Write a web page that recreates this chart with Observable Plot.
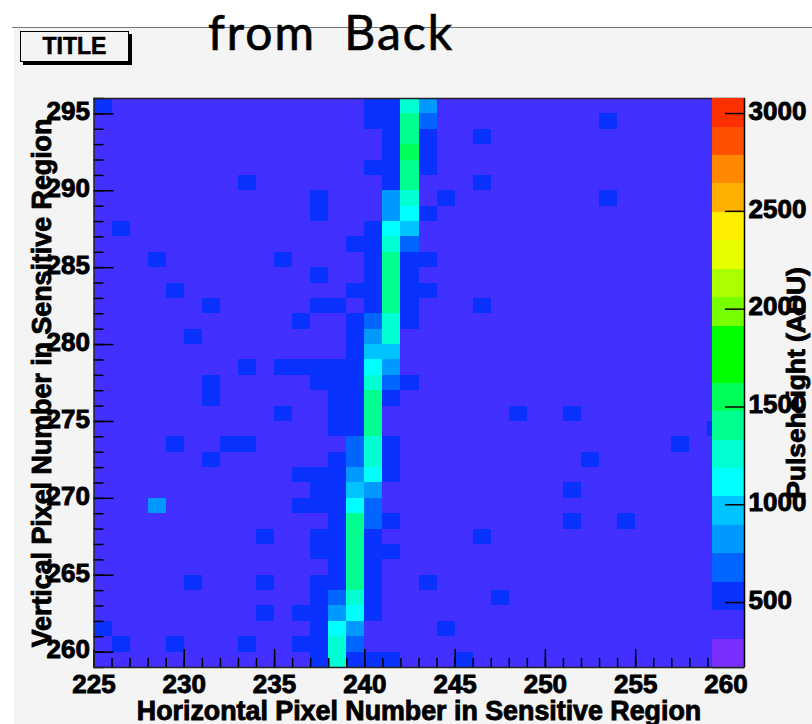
<!DOCTYPE html>
<html><head><meta charset="utf-8">
<script src="https://cdn.jsdelivr.net/npm/d3@7"></script>
<script src="https://cdn.jsdelivr.net/npm/@observablehq/plot@0.6"></script>
<style>
html,body{margin:0;padding:0;background:#fff;overflow:hidden;}
#stage{position:relative;width:812px;height:724px;overflow:hidden;}
#panel{position:absolute;left:14px;top:28px;right:0;bottom:0;background:#f4f4f4;}
#rule{position:absolute;left:12px;top:27px;right:0;height:1px;background:#777;}
#titlebox{position:absolute;left:20px;top:31px;width:107px;height:29px;border:1.5px solid #000;box-shadow:3px 3px 0 #000;background:#f4f4f4;
 font:bold 23px "Liberation Sans",Arial,sans-serif;text-align:center;line-height:29px;color:#000;-webkit-text-stroke:.6px #000;}
#note{position:absolute;left:208px;top:0px;font:48px "Comic Sans MS","Lato",sans-serif;word-spacing:14px;letter-spacing:2px;color:#000;white-space:nowrap;line-height:64px;-webkit-text-stroke:.7px #000;}
#stage svg{position:absolute;left:0;top:0;background:transparent;overflow:visible;}
#stage svg text{stroke:#000;stroke-width:.9px;}
</style></head>
<body><div id="stage"><div id="panel"></div><div id="rule"></div><div id="titlebox">TITLE</div><div id="note">from Back</div></div>
<script>
const heading = "from Back";
const xTitle = "Horizontal Pixel Number in Sensitive Region";
const yTitle = "Vertical Pixel Number in Sensitive Region";
const zTitle = "Pulseheight (ADU)";

const xMajor = [225,230,235,240,245,250,255,260];
const yMajor = [260,265,270,275,280,285,290,295];
const zMajor = [500,1000,1500,2000,2500,3000];

const thresholds = [313,459,604,750,895,1040,1186,1331,1477,1622,1768,1913,2059,2204,2349,2495,2640,2786,2931];
const palette = ["#7b2fff","#4230ff","#0a32ff","#0064ff","#0099ff","#00c4ff","#00ffff","#00ffd2","#00ff90","#00ff58","#00ff00","#00ff00","#78ff00","#aaff00","#e6ff00","#ffee00","#ffb000","#ff8800","#ff5000","#ff3000"];
const zLow = 168, zHigh = 3077;

const baselineADU = 390;
// [row, columns...] one palette step above the baseline
const faintADU = 530;
const faintRows = [
 [295,225,240,241],[294,240,241,253],[293,241,243,246],[292,241,243],[291,240,241,243],
 [290,233,241,246],[289,237,244,253],[288,237,243],[287,226,240],[286,239,240],
 [285,228,235,240,242,243],[284,237,240,242],[283,229,239,240,242,243],[282,231,237,238,240,242,246],
 [281,236,239,242],[280,230,239],[279,239],[278,233,235,236,237,238,239],[277,231,237,238,239,242],
 [276,231,238,239,241],[275,235,238,239,248,251],[274,238,239,259],[273,229,232,233,241,257],
 [272,231,238,241,252],[271,236,237,238,241],[270,237,238,251],[269,236,237,238],[268,238,241,251,254],
 [267,234,237,238,240,246],[266,237,238,240,241],[265,238,240],[264,230,234,237,238,240,243],
 [263,237,240,247],[262,234,236,237,240],[261,225,237,244],[260,226,229,233,236,237],[259,237,239,240,241,245]
];
// [x, y, ADU] along the track
const trackCells = [
 [242,295,1260],[243,295,820],[242,294,1400],[243,294,680],[242,293,1400],[242,292,1550],[242,291,1400],[242,290,1400],
 [241,289,820],[242,289,1260],[241,288,820],[242,288,1110],[241,287,1110],[242,287,970],[241,286,1260],[242,286,680],
 [241,285,1400],[241,284,1400],[241,283,1400],[241,282,1400],[240,281,680],[241,281,1260],[240,280,820],[241,280,1260],
 [240,279,970],[241,279,970],[240,278,1110],[241,278,820],[240,277,1260],[241,277,680],[240,276,1400],[240,275,1400],
 [240,274,1400],[239,273,680],[240,273,1260],[239,272,680],[240,272,1260],[239,271,820],[240,271,1110],[239,270,970],
 [240,270,820],[239,269,1110],[240,269,680],[228,269,820],[239,268,1400],[240,268,680],[239,267,1400],[239,266,1400],
 [239,265,1400],[239,264,1400],[238,263,680],[239,263,1260],[238,262,820],[239,262,1110],[238,261,1110],[239,261,820],
 [238,260,1260],[239,260,680],[238,259,1260]
];

const xBins = d3.range(225,261), yBins = d3.range(259,296);
const lookup = new Map();
for (const [y,...xs] of faintRows) for (const x of xs) lookup.set(x+":"+y, faintADU);
for (const [x,y,v] of trackCells) lookup.set(x+":"+y, v);
const cells = d3.cross(xBins,yBins).map(([x,y])=>({x,y,v:lookup.get(x+":"+y) ?? baselineADU}));

const colorScale = {type:"threshold",domain:thresholds,range:palette};
const font = {fontFamily:'"Liberation Sans",Arial,sans-serif',fontWeight:"bold",color:"#000",background:"transparent"};

const main = Plot.plot({
  width:812,height:724,marginLeft:93.5,marginRight:68.5,marginTop:98,marginBottom:57,
  style:font,
  x:{domain:[225,261],axis:null},
  y:{domain:[259,296],axis:null},
  color:colorScale,
  marks:[
    Plot.rect(cells,{x1:"x",x2:d=>d.x+1,y1:"y",y2:d=>d.y+1,fill:"v",shapeRendering:"crispEdges"}),
    Plot.axisX({anchor:"bottom",ticks:d3.range(225,262),tickSize:-9,tickFormat:()=>"",label:null,strokeWidth:1.5,stroke:"#000"}),
    Plot.axisX({anchor:"bottom",ticks:xMajor,tickSize:-18,tickFormat:()=>"",label:null,strokeWidth:1.5,stroke:"#000"}),
    Plot.axisY({anchor:"left",ticks:d3.range(259,297),tickSize:-10,tickFormat:()=>"",label:null,strokeWidth:1.5,stroke:"#000"}),
    Plot.axisY({anchor:"left",ticks:yMajor,tickSize:-20,tickFormat:()=>"",label:null,strokeWidth:1.5,stroke:"#000"}),
    Plot.axisX({anchor:"bottom",ticks:xMajor,tickSize:0,tickPadding:7,fontSize:26,tickFormat:d=>String(d),label:null,fill:"#000"}),
    Plot.axisY({anchor:"left",ticks:yMajor,tickSize:0,tickPadding:4,fontSize:26,dy:-2,tickFormat:d=>String(d),label:null,fill:"#000"}),
    Plot.frame({stroke:"#222",strokeWidth:1.5}),
    Plot.text([xTitle],{text:d=>d,frameAnchor:"bottom",dy:52,fontSize:26.8,fill:"#000",textAnchor:"middle"}),
    Plot.text([yTitle],{text:d=>d,frameAnchor:"left",dx:-52,rotate:-90,fontSize:26.8,fill:"#000",textAnchor:"middle"})
  ]
});

const bandEdges = [zLow,...thresholds,zHigh];
const bands = palette.map((c,i)=>({lo:bandEdges[i],hi:bandEdges[i+1],mid:(bandEdges[i]+bandEdges[i+1])/2}));
const bar = Plot.plot({
  width:812,height:724,marginLeft:712,marginRight:68,marginTop:98,marginBottom:57,
  style:font,
  x:{domain:[0,1],axis:null},
  y:{domain:[zLow,zHigh],axis:null},
  color:colorScale,
  marks:[
    Plot.rect(bands,{x1:()=>0,x2:()=>1,y1:"lo",y2:"hi",fill:"mid",shapeRendering:"crispEdges"}),
    Plot.axisY({anchor:"right",ticks:zMajor,tickSize:-20,tickFormat:()=>"",label:null,strokeWidth:1.5,stroke:"#000"}),
    Plot.axisY({anchor:"right",ticks:zMajor,tickSize:0,tickPadding:4,fontSize:26,dy:-2,tickFormat:d=>String(d),label:null,fill:"#000",textAnchor:"start"}),
    Plot.ruleX([1],{stroke:"#000",strokeWidth:1.5}),
    Plot.ruleY([zLow],{stroke:"#222",strokeWidth:1.5}),
    Plot.text([zTitle],{text:d=>d,frameAnchor:"right",dx:52,rotate:-90,fontSize:26.4,fill:"#000",textAnchor:"middle"})
  ]
});
document.getElementById("note").textContent = heading;
document.getElementById("stage").append(main,bar);
</script></body></html>
